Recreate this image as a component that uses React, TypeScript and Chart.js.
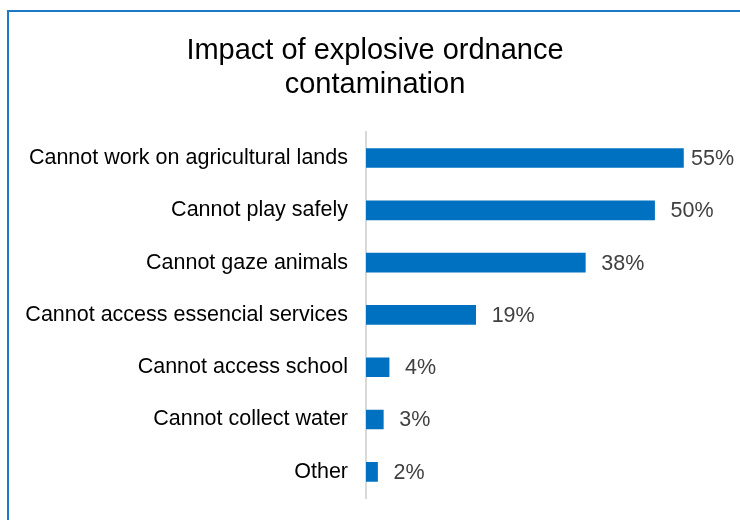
import React, { useEffect, useRef } from "react";
import { Chart, registerables } from "chart.js";

Chart.register(...registerables);

const titleLines = ["Impact of explosive ordnance", "contamination"];
const categories = [
  "Cannot work on agricultural lands",
  "Cannot play safely",
  "Cannot gaze animals",
  "Cannot access essencial services",
  "Cannot access school",
  "Cannot collect water",
  "Other",
];
const values = [55, 50, 38, 19, 4, 3, 2];
const xMax = 64.8;

const FONT = "'Liberation Sans', Arial, sans-serif";

const valueLabels = {
  id: "valueLabels",
  afterDatasetsDraw(chart: any) {
    const ctx = chart.ctx;
    const meta = chart.getDatasetMeta(0);
    ctx.save();
    ctx.font = `21.5px ${FONT}`;
    ctx.fillStyle = "#404040";
    ctx.textBaseline = "middle";
    ctx.textAlign = "left";
    meta.data.forEach((bar: any, i: number) => {
      const text = `${values[i]}%`;
      const w = ctx.measureText(text).width;
      const x = Math.min(bar.x + 16, 734 - w);
      ctx.fillText(text, x, bar.y + 1);
    });
    ctx.restore();
  },
};

export default function App() {
  const ref = useRef<HTMLCanvasElement>(null);
  useEffect(() => {
    if (!ref.current) return;
    const chart = new Chart(ref.current, {
      type: "bar",
      data: {
        labels: categories,
        datasets: [
          {
            data: values,
            backgroundColor: "#0070C0",
            barThickness: 19,
          },
        ],
      },
      options: {
        indexAxis: "y",
        animation: false,
        responsive: false,
        maintainAspectRatio: false,
        layout: { padding: { left: 10, right: 0, top: 0, bottom: 22 } },
        plugins: {
          legend: { display: false },
          tooltip: { enabled: false },
          title: {
            display: true,
            text: titleLines,
            color: "#000000",
            font: { family: FONT, size: 29, weight: "normal", lineHeight: 1.17 },
            padding: { top: 34, bottom: 30 },
          },
        },
        scales: {
          x: { display: false, min: 0, max: xMax },
          y: {
            afterFit(scale: any) {
              scale.width = 356;
              scale.paddingTop = 0;
              scale.paddingBottom = 0;
            },
            grid: { display: false, drawTicks: false },
            border: { display: true, color: "#d9d9d9", width: 2 },
            ticks: {
              color: "#000000",
              padding: 18,
              font: { family: FONT, size: 21.5 },
            },
          },
        },
      },
      plugins: [valueLabels],
    });
    return () => chart.destroy();
  }, []);
  return (
    <div style={{ position: "fixed", left: 0, top: 0, width: 740, height: 520, background: "#fff", overflow: "hidden" }}>
      <canvas ref={ref} width={740} height={520} style={{ position: "absolute", left: 0, top: 0 }} />
      <div
        style={{
          position: "absolute",
          left: 7,
          top: 10,
          width: 760,
          height: 540,
          borderTop: "2px solid #1E78C8",
          borderLeft: "2px solid #1E78C8",
          pointerEvents: "none",
        }}
      />
    </div>
  );
}
